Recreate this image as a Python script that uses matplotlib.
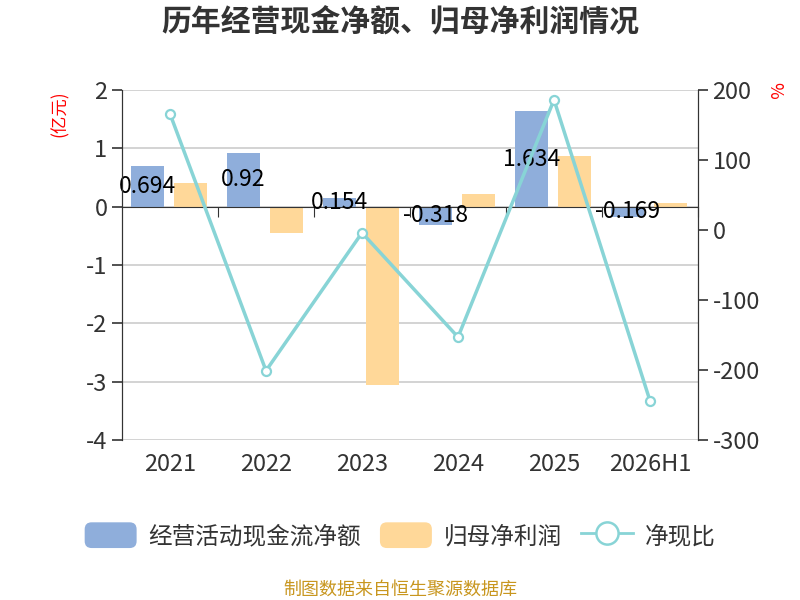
import matplotlib
matplotlib.use('Agg')
import matplotlib.pyplot as plt
import matplotlib.transforms as mtransforms
from matplotlib.patches import FancyBboxPatch, Patch
from matplotlib.lines import Line2D
from matplotlib.legend_handler import HandlerPatch
import numpy as np

plt.rcParams['font.family'] = ['Noto Sans CJK SC', 'DejaVu Sans']
plt.rcParams['axes.unicode_minus'] = False

# data
categories = ['2021', '2022', '2023', '2024', '2025', '2026H1']
cash_flow = [0.694, 0.92, 0.154, -0.318, 1.634, -0.169]   # 经营活动现金流净额 (亿元)
net_profit = [0.41, -0.46, -3.05, 0.21, 0.875, 0.07]      # 归母净利润 (亿元)
ratio = [166, -201, -4, -153, 186, -244]                  # 净现比 (%)

blue = '#8FAEDB'
orange = '#FFD899'
teal = '#88D4D6'
txt = '#333333'


class RoundBox(HandlerPatch):
    # rounded rectangle for the bar entries in the legend
    def create_artists(self, legend, orig_handle, xdescent, ydescent,
                       width, height, fontsize, trans):
        p = FancyBboxPatch((-xdescent, -ydescent), width, height,
                           boxstyle='round,pad=0,rounding_size=5',
                           facecolor=orig_handle.get_facecolor(),
                           edgecolor='none', transform=trans)
        return [p]


fig = plt.figure(figsize=(8, 6), dpi=100)
ax = fig.add_axes([0.1525, 0.2667, 0.72, 0.5833])
ax2 = ax.twinx()

x = np.arange(len(categories))
w = 0.34
ax.bar(x - 0.235, cash_flow, w, color=blue, zorder=2)
ax.bar(x + 0.215, net_profit, w, color=orange, zorder=2)

for xi, v in zip(x, cash_flow):
    ax.text(xi - 0.235, v / 2, str(v), ha='center', va='center',
            fontsize=16.5, color='black', zorder=5)

ax.set_xlim(-0.5, len(categories) - 0.5)
ax.set_ylim(-4, 2)
ax.set_yticks(range(-4, 3))
ax.grid(axis='y', color='#cccccc', linewidth=1.2, zorder=0)
ax.set_axisbelow(True)

# x axis sits on zero, category labels at the bottom
ax.spines['bottom'].set_position(('data', 0))
ax.spines['bottom'].set_color(txt)
ax.spines['top'].set_visible(False)
ax.spines['left'].set_color(txt)
ax.spines['right'].set_color(txt)
ax.set_xticks(x + 0.5)
ax.set_xticklabels([])
ax.tick_params(axis='x', length=7, color=txt, direction='out')
ax.tick_params(axis='y', labelsize=17, colors=txt, length=7, width=1.2)
trans = mtransforms.blended_transform_factory(ax.transData, ax.transAxes)
for xi, c in zip(x, categories):
    ax.text(xi, -0.07, c, transform=trans, ha='center', va='center',
            fontsize=17, color=txt)

ax2.plot(x, ratio, color=teal, linewidth=2.5, marker='o', markersize=6.5,
         markerfacecolor='white', markeredgecolor=teal, markeredgewidth=1.6, zorder=4)
ax2.set_ylim(-300, 200)
ax2.set_yticks(range(-300, 201, 100))
ax2.tick_params(axis='y', labelsize=17, colors=txt, length=7, width=1.2)
ax2.spines['top'].set_visible(False)
ax2.spines['bottom'].set_visible(False)
ax2.spines['right'].set_color(txt)
ax2.spines['left'].set_color(txt)

fig.text(0.5, 0.963, '历年经营现金净额、归母净利润情况', ha='center', va='center',
         fontsize=21.5, fontweight='bold', color=txt)
fig.text(0.075, 0.81, '(亿元)', ha='center', va='center', rotation=90,
         fontsize=12.5, color='red')
fig.text(0.968, 0.85, '%', ha='center', va='center', rotation=-90,
         fontsize=13, color='red')

handles = [
    Patch(facecolor=blue, edgecolor=blue),
    Patch(facecolor=orange, edgecolor=orange),
    Line2D([0], [0], color=teal, linewidth=2, marker='o', markersize=16,
           markerfacecolor='white', markeredgecolor=teal, markeredgewidth=1.8),
]
fig.legend(handles, ['经营活动现金流净额', '归母净利润', '净现比'], loc='center',
           bbox_to_anchor=(0.5, 0.108), ncol=3, frameon=False, fontsize=17,
           handlelength=2.2, handleheight=1.3, columnspacing=0.8, handletextpad=0.5,
           labelcolor=txt, handler_map={Patch: RoundBox()})

fig.text(0.5, 0.017, '制图数据来自恒生聚源数据库', ha='center', va='center',
         fontsize=13, color='#C8961E')

fig.savefig('out.png', dpi=100)
